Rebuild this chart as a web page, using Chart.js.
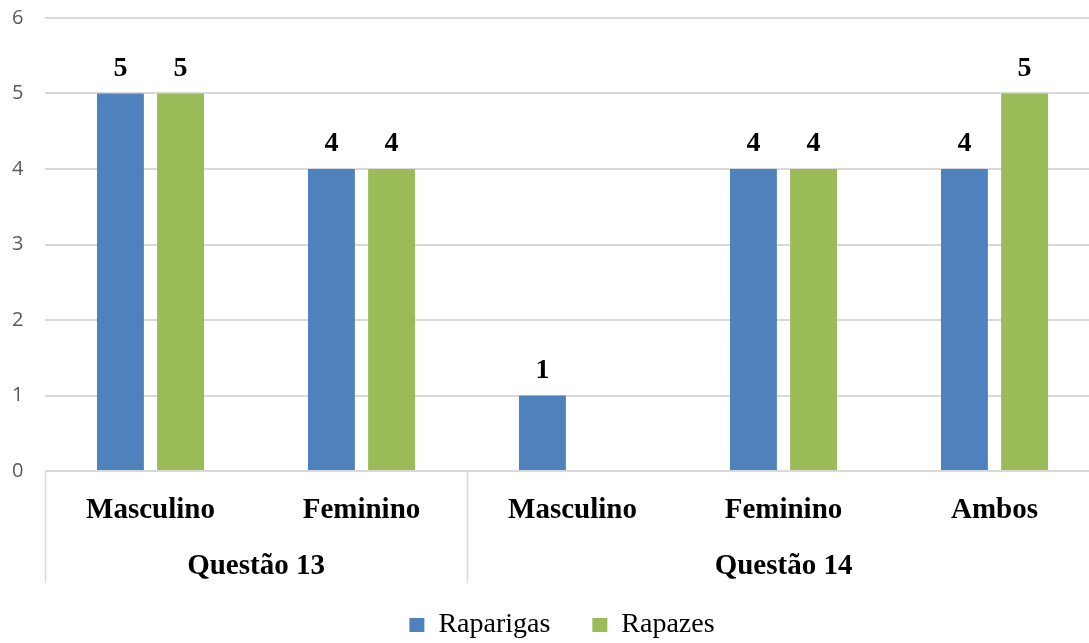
<!DOCTYPE html>
<html>
<head>
<meta charset="utf-8">
<script src="https://cdn.jsdelivr.net/npm/chart.js@4.4.1/dist/chart.umd.min.js"></script>
<style>
  html, body { margin: 0; padding: 0; background: #ffffff; overflow: hidden; }
  #wrap { position: relative; width: 1089px; height: 643px; overflow: hidden; }
  #chart { position: absolute; left: 0; top: 0; }
</style>
</head>
<body>
<div id="wrap"><canvas id="chart" width="1112" height="643"></canvas></div>
<script>
// Answer categories, grouped by question
const categories = ['Masculino', 'Feminino', 'Masculino', 'Feminino', 'Ambos'];
const groupLabels = ['Questão 13', 'Questão 14'];
const groupSizes = [2, 3];

// Counts per category
const raparigas = [5, 4, 1, 4, 4];
const rapazes = [5, 4, 0, 4, 5];

// Value axis
const yMin = 0;
const yMax = 6;
const yStep = 1;

const serif = "'Liberation Serif', 'Times New Roman', serif";
const gridGrey = '#d9d9d9';

// Value labels above each non-zero bar
const barValueLabels = {
  id: 'barValueLabels',
  afterDatasetsDraw(chart) {
    const ctx = chart.ctx;
    ctx.save();
    ctx.font = 'bold 28px ' + serif;
    ctx.fillStyle = '#000000';
    ctx.textAlign = 'center';
    ctx.textBaseline = 'alphabetic';
    chart.data.datasets.forEach((ds, di) => {
      const meta = chart.getDatasetMeta(di);
      meta.data.forEach((bar, i) => {
        const v = ds.data[i];
        if (!v) return;
        ctx.fillText(String(v), bar.x, bar.y - 18);
      });
    });
    ctx.restore();
  }
};

// Second row of category labels (question groups) with separators
const groupAxis = {
  id: 'groupAxis',
  afterDraw(chart) {
    const x = chart.scales.x;
    const ctx = chart.ctx;
    const step = x.getPixelForValue(1) - x.getPixelForValue(0);
    const top = chart.chartArea.bottom;
    ctx.save();
    ctx.strokeStyle = gridGrey;
    ctx.lineWidth = 1.5;
    let start = 0;
    const bounds = [0];
    groupSizes.forEach(n => { start += n; bounds.push(start); });
    bounds.forEach(b => {
      const px = Math.round(x.getPixelForValue(b) - step / 2) + 0.5;
      ctx.beginPath();
      ctx.moveTo(px, top);
      ctx.lineTo(px, 583);
      ctx.stroke();
    });
    ctx.font = 'bold 29px ' + serif;
    ctx.fillStyle = '#000000';
    ctx.textAlign = 'center';
    ctx.textBaseline = 'alphabetic';
    start = 0;
    groupLabels.forEach((label, g) => {
      const n = groupSizes[g];
      const cx = (x.getPixelForValue(start) + x.getPixelForValue(start + n - 1)) / 2;
      ctx.fillText(label, cx, 574);
      start += n;
    });
    ctx.restore();
  }
};

new Chart(document.getElementById('chart'), {
  type: 'bar',
  data: {
    labels: categories,
    datasets: [
      {
        label: 'Raparigas',
        data: raparigas,
        backgroundColor: '#4f81bd',
        categoryPercentage: 0.57,
        barPercentage: 0.78
      },
      {
        label: 'Rapazes',
        data: rapazes,
        backgroundColor: '#9bbb59',
        categoryPercentage: 0.57,
        barPercentage: 0.78
      }
    ]
  },
  options: {
    responsive: false,
    animation: false,
    devicePixelRatio: 1,
    layout: { padding: { left: 12, right: 0, top: 18, bottom: -6 } },
    plugins: {
      legend: {
        position: 'bottom',
        labels: {
          boxWidth: 15,
          boxHeight: 14,
          padding: 42,
          color: '#000000',
          font: { family: serif, size: 28 }
        }
      },
      tooltip: { enabled: false }
    },
    scales: {
      x: {
        grid: { display: false, drawTicks: false },
        border: { display: false },
        ticks: {
          padding: 22,
          color: '#000000',
          font: { family: serif, size: 29, weight: 'bold' }
        },
        afterFit(scale) { scale.height = 98; }
      },
      y: {
        min: yMin,
        max: yMax,
        grid: { color: gridGrey, lineWidth: 2, drawTicks: false },
        border: { display: false },
        ticks: {
          stepSize: yStep,
          padding: 0,
          crossAlign: 'far',
          color: '#595959',
          font: { family: "'Open Sans', 'Liberation Sans', sans-serif", size: 20 }
        },
        afterFit(scale) { scale.width = 33; }
      },
      // empty right-hand margin so the legend sits where it should
      yRight: {
        position: 'right',
        min: yMin,
        max: yMax,
        grid: { display: false, drawTicks: false },
        border: { display: false },
        ticks: { display: false },
        afterFit(scale) { scale.width = 12; }
      }
    }
  },
  plugins: [barValueLabels, groupAxis]
});
</script>
</body>
</html>
